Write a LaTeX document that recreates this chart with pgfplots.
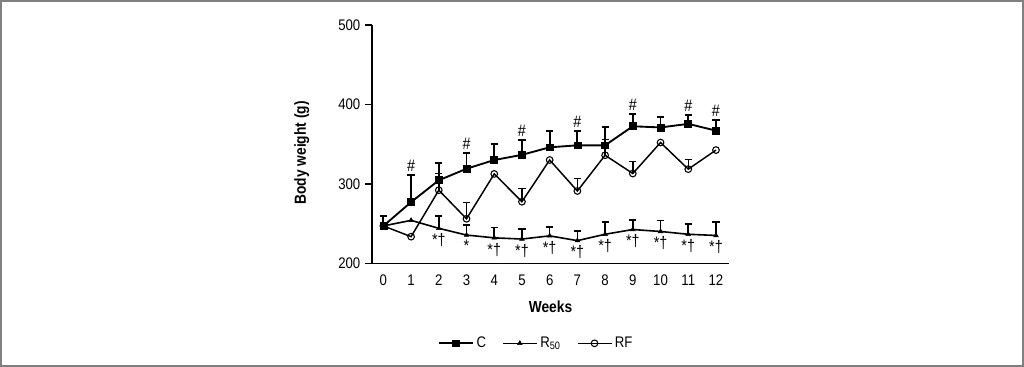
\documentclass[border=0pt]{standalone}
\usepackage{pgfplots}
\pgfplotsset{compat=1.18}
\usepackage{fontspec}
\setmainfont{Liberation Sans}[FakeStretch=0.86]
\begin{document}
\begin{tikzpicture}
\useasboundingbox (0,0) rectangle (768pt,275.25pt);
\draw[gray, line width=1.2pt] (0.6pt,0.6pt) rectangle (767.4pt,274.65pt);
\begin{axis}[
  at={(279pt,77.8pt)}, anchor=south west,
  scale only axis, width=267.75pt, height=178.7pt,
  xmin=-0.41, xmax=12.47, ymin=200, ymax=500,
  axis x line*=bottom, axis y line*=left,
  axis line style={-, line width=1.1pt},
  xtick={0,...,12}, ytick={200,300,400,500},
  x tick style={draw=none},
  y tick style={line width=1.1pt, black},
  tick align=outside, major tick length=5.25pt,
  tick label style={font=\fontsize{11.5}{13}\selectfont},
  /pgf/number format/assume math mode=true,
  xlabel={Weeks}, ylabel={Body weight (g)},
  label style={font=\bfseries\fontsize{12}{14}\selectfont},
  xlabel style={at={(axis description cs:0.5,-0.182)}, anchor=center},
  ylabel style={at={(axis description cs:-0.197,0.463)}, anchor=center},
  legend style={at={(axis description cs:0.461,-0.336)}, anchor=center, draw=none,
    font=\fontsize{11.5}{13}\selectfont, inner sep=1pt,
    /tikz/every even column/.append style={column sep=10pt}},
  legend columns=3,
  legend image code/.code={\draw[mark repeat=2,mark phase=2] plot coordinates {(0pt,0pt)(12.75pt,0pt)(25.5pt,0pt)};},
  clip=false,
]
% C
\addplot[black, line width=1.4pt, mark=square*, mark size=2.6pt, mark options={line width=0.5pt},
  error bars/.cd, y dir=plus, y explicit,
  error bar style={line width=1.4pt},
  error mark options={rotate=90, line width=1.4pt, mark size=2.7pt}]
coordinates {
(0,247) +- (0,13)
(1,277) +- (0,34)
(2,304.5) +- (0,21.5)
(3,319) +- (0,19.5)
(4,330) +- (0,19.7)
(5,336.5) +- (0,18.2)
(6,346) +- (0,20.8)
(7,348.5) +- (0,18.3)
(8,348.5) +- (0,22.9)
(9,372.5) +- (0,15.7)
(10,371) +- (0,13.4)
(11,375.5) +- (0,11.4)
(12,367) +- (0,13.3)
};
\addlegendentry{C}
% R50
\addplot[black, line width=1.2pt, mark=triangle*, mark size=2pt, mark options={line width=0.4pt}]
coordinates {
(0,247) (1,254) (2,244) (3,235.5) (4,232) (5,230.5) (6,234.5)
(7,228.5) (8,236.5) (9,242.5) (10,240) (11,236.5) (12,235)
};
\addlegendentry{R\textsubscript{50}}
% RF
\addplot[black, line width=1.1pt, mark=o, mark size=2.5pt, mark options={line width=0.8pt}]
coordinates {
(0,247) (1,233.5) (2,292) (3,256) (4,312.5) (5,277.5) (6,330)
(7,291) (8,336) (9,313) (10,352) (11,318.5) (12,342.5)
};
\addlegendentry{RF}
% R50 error bars
\addplot[forget plot, draw=none, mark=none,
  error bars/.cd, y dir=plus, y explicit,
  error bar style={draw=black, line width=1.2pt},
  error mark options={rotate=90, draw=black, line width=1.2pt, mark size=2.7pt}]
coordinates {
(2,244) +- (0,15.6)
(3,235.5) +- (0,12.5)
(4,232) +- (0,12.8)
(5,230.5) +- (0,12.6)
(6,234.5) +- (0,11.5)
(7,228.5) +- (0,12.1)
(8,236.5) +- (0,15.8)
(9,242.5) +- (0,12)
(10,240) +- (0,13.6)
(11,236.5) +- (0,12.9)
(12,235) +- (0,17.3)
};
% RF error bars
\addplot[forget plot, draw=none, mark=none,
  error bars/.cd, y dir=plus, y explicit,
  error bar style={draw=black, line width=1.1pt},
  error mark options={rotate=90, draw=black, line width=1.1pt, mark size=2.7pt}]
coordinates {
(2,292) +- (0,21)
(3,256) +- (0,20.4)
(5,277.5) +- (0,16.4)
(7,291) +- (0,16)
(8,336) +- (0,20)
(9,313) +- (0,14.8)
(11,318.5) +- (0,12.3)
};
% annotations
\begin{scope}[every node/.style={font=\fontsize{12.5}{14}\selectfont, inner sep=2.5pt}]
\node[anchor=south] at (axis cs:1,310.8) {\#};
\node[anchor=south] at (axis cs:3,338.5) {\#};
\node[anchor=south] at (axis cs:5,354.7) {\#};
\node[anchor=south] at (axis cs:7,366.8) {\#};
\node[anchor=south] at (axis cs:9,388.2) {\#};
\node[anchor=south] at (axis cs:11,386.9) {\#};
\node[anchor=south] at (axis cs:12,380.3) {\#};
\node[anchor=north] at (axis cs:2,242) {*†};
\node[anchor=north] at (axis cs:3,233.5) {*};
\node[anchor=north] at (axis cs:4,230) {*†};
\node[anchor=north] at (axis cs:5,228.5) {*†};
\node[anchor=north] at (axis cs:6,232.5) {*†};
\node[anchor=north] at (axis cs:7,226.5) {*†};
\node[anchor=north] at (axis cs:8,234.5) {*†};
\node[anchor=north] at (axis cs:9,240.5) {*†};
\node[anchor=north] at (axis cs:10,238) {*†};
\node[anchor=north] at (axis cs:11,234.5) {*†};
\node[anchor=north] at (axis cs:12,233) {*†};
\end{scope}
\end{axis}
\end{tikzpicture}
\end{document}
